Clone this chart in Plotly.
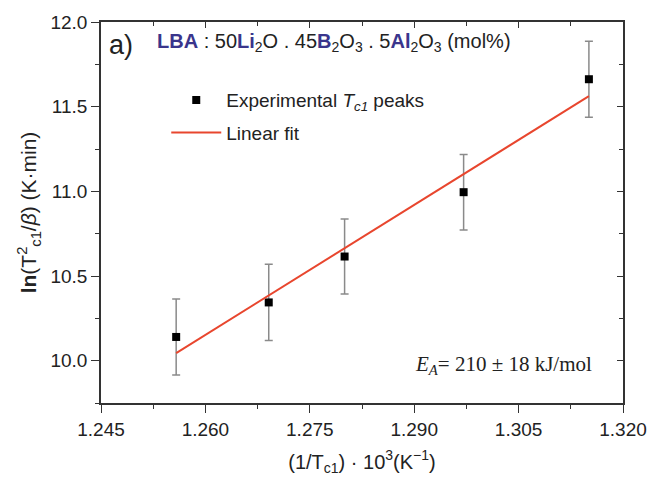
import plotly.graph_objects as go

# Data
inv_tc1 = [1.2558, 1.2691, 1.2800, 1.2971, 1.3151]
ln_val = [10.140, 10.344, 10.615, 10.995, 11.662]
err = [0.224, 0.225, 0.222, 0.223, 0.224]

fit_x = [1.2558, 1.3151]
fit_y = [10.045, 11.562]

x_ticks = [1.245, 1.260, 1.275, 1.290, 1.305, 1.320]
x_ticklabels = ["1.245", "1.260", "1.275", "1.290", "1.305", "1.320"]
y_ticks = [10.0, 10.5, 11.0, 11.5, 12.0]
y_ticklabels = ["10.0", "10.5", "11.0", "11.5", "12.0"]

BLUE = "#3a358c"
AX = "#333333"
FONT = "Liberation Sans, Arial, sans-serif"

fig = go.Figure()

fig.add_trace(go.Scatter(
    x=inv_tc1, y=ln_val, mode="markers", legendgroup="a",
    name="Experimental <i>T</i><sub><i>c1</i></sub> peaks",
    marker=dict(symbol="square", size=8, color="black"),
    error_y=dict(type="data", array=err, visible=True, color="#8a8a8a",
                 thickness=1.5, width=4),
))
fig.add_trace(go.Scatter(
    x=fit_x, y=fit_y, mode="lines", name="Linear fit", legendgroup="b",
    line=dict(color="#e8462e", width=2),
))
# invisible trace for the mirrored (inward-tick) axes
fig.add_trace(go.Scatter(x=[None], y=[None], xaxis="x2", yaxis="y2",
                         showlegend=False, hoverinfo="skip"))

xr = [1.245, 1.320]
yr = [9.75, 12.0]

fig.update_layout(
    width=665, height=486,
    margin=dict(l=101, r=42, t=22, b=83),
    paper_bgcolor="white", plot_bgcolor="white",
    font=dict(family=FONT, size=19, color="#222222"),
    showlegend=True,
    legend=dict(x=0.125, y=0.845, xanchor="left", yanchor="top",
                bgcolor="rgba(0,0,0,0)", borderwidth=0,
                font=dict(size=19, family=FONT), itemwidth=50,
                traceorder="grouped", tracegroupgap=5),
    xaxis=dict(range=xr, tickvals=x_ticks, ticktext=x_ticklabels,
               showgrid=False, zeroline=False, showline=True, linecolor=AX,
               linewidth=1.5, mirror=True, ticks="outside", ticklen=8,
               tickwidth=1.3, tickcolor=AX,
               minor=dict(ticks="outside", ticklen=4, dtick=0.0075,
                          tick0=1.245, tickcolor=AX, tickwidth=1.3),
               title=dict(text="(1/T<sub>c1</sub>) · 10<sup>3</sup>(K<sup>−1</sup>)",
                          font=dict(size=20), standoff=16)),
    yaxis=dict(range=yr, tickvals=y_ticks, ticktext=y_ticklabels,
               showgrid=False, zeroline=False, showline=True, linecolor=AX,
               linewidth=1.5, mirror=True, ticks="outside", ticklen=8,
               tickwidth=1.3, tickcolor=AX,
               minor=dict(ticks="outside", ticklen=4, dtick=0.25,
                          tick0=10.0, tickcolor=AX, tickwidth=1.3),
               title=dict(text="<b>ln</b>(T<sup>2</sup><sub>c1</sub>/<i>β</i>) (K·min)",
                          font=dict(size=21), standoff=8)),
    xaxis2=dict(range=xr, overlaying="x", side="top", tickvals=x_ticks,
                showticklabels=False, showgrid=False, zeroline=False,
                showline=False, ticks="inside", ticklen=6, tickwidth=1.3,
                tickcolor=AX,
                minor=dict(ticks="inside", ticklen=4, dtick=0.0075,
                           tick0=1.245, tickcolor=AX, tickwidth=1.3)),
    yaxis2=dict(range=yr, overlaying="y", side="right", tickvals=y_ticks,
                showticklabels=False, showgrid=False, zeroline=False,
                showline=False, ticks="inside", ticklen=6, tickwidth=1.3,
                tickcolor=AX,
                minor=dict(ticks="inside", ticklen=4, dtick=0.25,
                           tick0=10.0, tickcolor=AX, tickwidth=1.3)),
)

fig.add_annotation(xref="paper", yref="paper", x=0.012, y=0.985,
                   xanchor="left", yanchor="top", showarrow=False,
                   text="a)", font=dict(size=27, family=FONT, color="#222222"))

lba = (f'<span style="color:{BLUE}"><b>LBA</b></span> : 50'
       f'<span style="color:{BLUE}"><b>Li</b></span><sub>2</sub>O . 45'
       f'<span style="color:{BLUE}"><b>B</b></span><sub>2</sub>O<sub>3</sub> . 5'
       f'<span style="color:{BLUE}"><b>Al</b></span><sub>2</sub>O<sub>3</sub> (mol%)')
fig.add_annotation(xref="paper", yref="paper", x=0.103, y=0.985,
                   xanchor="left", yanchor="top", showarrow=False,
                   text=lba, font=dict(size=20, family=FONT, color="#222222"))

fig.add_annotation(xref="paper", yref="paper", x=0.945, y=0.10,
                   xanchor="right", yanchor="middle", showarrow=False,
                   text="<i>E<sub>A</sub></i>= 210 ± 18 kJ/mol",
                   font=dict(size=21, family="Liberation Serif, Times New Roman, serif",
                             color="#222222"))

fig.write_html("out.html")
